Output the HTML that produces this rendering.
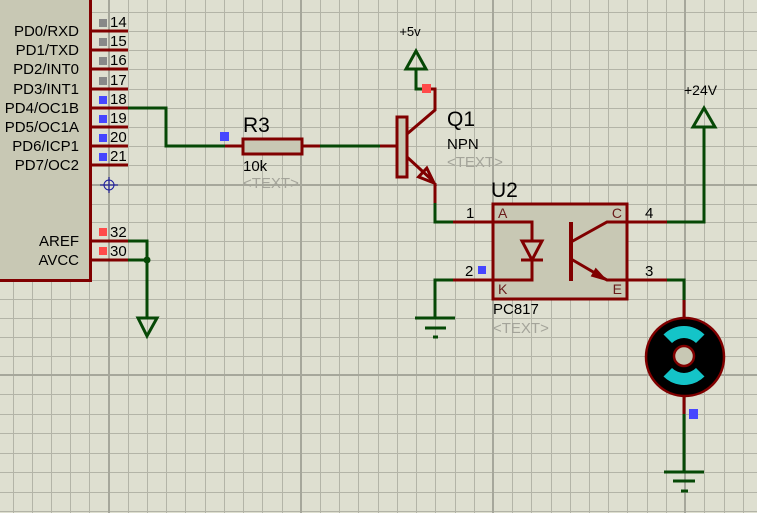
<!DOCTYPE html>
<html><head><meta charset="utf-8"><style>
html,body{margin:0;padding:0;background:#dedfd0;}
svg{display:block;}
text{font-family:"Liberation Sans",Arial,sans-serif;}
</style></head><body>
<svg width="757" height="513" viewBox="0 0 757 513" xmlns="http://www.w3.org/2000/svg">
<rect x="0" y="0" width="757" height="513" fill="#dedfd0"/>
<!-- grid minor vertical -->
<g stroke="#b3b4a7" stroke-width="1">
<line x1="13.5" y1="0" x2="13.5" y2="513"/><line x1="32.5" y1="0" x2="32.5" y2="513"/><line x1="51.5" y1="0" x2="51.5" y2="513"/><line x1="70.5" y1="0" x2="70.5" y2="513"/><line x1="89.5" y1="0" x2="89.5" y2="513"/>
<line x1="128.5" y1="0" x2="128.5" y2="513"/><line x1="147.5" y1="0" x2="147.5" y2="513"/><line x1="166.5" y1="0" x2="166.5" y2="513"/><line x1="185.5" y1="0" x2="185.5" y2="513"/><line x1="205.5" y1="0" x2="205.5" y2="513"/><line x1="224.5" y1="0" x2="224.5" y2="513"/><line x1="243.5" y1="0" x2="243.5" y2="513"/><line x1="262.5" y1="0" x2="262.5" y2="513"/><line x1="282.5" y1="0" x2="282.5" y2="513"/>
<line x1="320.5" y1="0" x2="320.5" y2="513"/><line x1="339.5" y1="0" x2="339.5" y2="513"/><line x1="358.5" y1="0" x2="358.5" y2="513"/><line x1="378.5" y1="0" x2="378.5" y2="513"/><line x1="397.5" y1="0" x2="397.5" y2="513"/><line x1="416.5" y1="0" x2="416.5" y2="513"/><line x1="435.5" y1="0" x2="435.5" y2="513"/><line x1="455.5" y1="0" x2="455.5" y2="513"/><line x1="474.5" y1="0" x2="474.5" y2="513"/>
<line x1="512.5" y1="0" x2="512.5" y2="513"/><line x1="531.5" y1="0" x2="531.5" y2="513"/><line x1="551.5" y1="0" x2="551.5" y2="513"/><line x1="570.5" y1="0" x2="570.5" y2="513"/><line x1="589.5" y1="0" x2="589.5" y2="513"/><line x1="608.5" y1="0" x2="608.5" y2="513"/><line x1="627.5" y1="0" x2="627.5" y2="513"/><line x1="647.5" y1="0" x2="647.5" y2="513"/><line x1="666.5" y1="0" x2="666.5" y2="513"/>
<line x1="704.5" y1="0" x2="704.5" y2="513"/><line x1="724.5" y1="0" x2="724.5" y2="513"/><line x1="743.5" y1="0" x2="743.5" y2="513"/>
</g>
<!-- grid minor horizontal -->
<g stroke="#b3b4a7" stroke-width="1">
<line x1="0" y1="12.5" x2="757" y2="12.5"/><line x1="0" y1="31.5" x2="757" y2="31.5"/><line x1="0" y1="50.5" x2="757" y2="50.5"/><line x1="0" y1="69.5" x2="757" y2="69.5"/><line x1="0" y1="89.5" x2="757" y2="89.5"/><line x1="0" y1="108.5" x2="757" y2="108.5"/><line x1="0" y1="127.5" x2="757" y2="127.5"/><line x1="0" y1="146.5" x2="757" y2="146.5"/><line x1="0" y1="165.5" x2="757" y2="165.5"/>
<line x1="0" y1="204.5" x2="757" y2="204.5"/><line x1="0" y1="222.5" x2="757" y2="222.5"/><line x1="0" y1="241.5" x2="757" y2="241.5"/><line x1="0" y1="260.5" x2="757" y2="260.5"/><line x1="0" y1="280.5" x2="757" y2="280.5"/><line x1="0" y1="299.5" x2="757" y2="299.5"/><line x1="0" y1="318.5" x2="757" y2="318.5"/><line x1="0" y1="337.5" x2="757" y2="337.5"/><line x1="0" y1="356.5" x2="757" y2="356.5"/>
<line x1="0" y1="394.5" x2="757" y2="394.5"/><line x1="0" y1="414.5" x2="757" y2="414.5"/><line x1="0" y1="433.5" x2="757" y2="433.5"/><line x1="0" y1="453.5" x2="757" y2="453.5"/><line x1="0" y1="472.5" x2="757" y2="472.5"/><line x1="0" y1="492.5" x2="757" y2="492.5"/><line x1="0" y1="511.5" x2="757" y2="511.5"/>
</g>
<!-- grid major -->
<g stroke="#a6a79b" stroke-width="2">
<line x1="109" y1="0" x2="109" y2="513"/><line x1="301" y1="0" x2="301" y2="513"/><line x1="493" y1="0" x2="493" y2="513"/><line x1="685" y1="0" x2="685" y2="513"/>
<line x1="0" y1="185" x2="757" y2="185"/><line x1="0" y1="375" x2="757" y2="375"/>
</g>

<!-- Microcontroller body -->
<rect x="-10" y="-10" width="100.5" height="290.5" fill="#c8c8b4" stroke="#800000" stroke-width="3"/>
<!-- pins -->
<g stroke="#800000" stroke-width="3">
<line x1="91" y1="31" x2="128" y2="31"/><line x1="91" y1="50" x2="128" y2="50"/><line x1="91" y1="69" x2="128" y2="69"/><line x1="91" y1="89" x2="128" y2="89"/>
<line x1="91" y1="108" x2="128" y2="108"/><line x1="91" y1="127" x2="128" y2="127"/><line x1="91" y1="146" x2="128" y2="146"/><line x1="91" y1="165" x2="128" y2="165"/>
<line x1="91" y1="241" x2="128" y2="241"/><line x1="91" y1="260" x2="128" y2="260"/>
</g>
<g font-size="15" fill="#000" text-anchor="end">
<text x="79" y="36">PD0/RXD</text><text x="79" y="55">PD1/TXD</text><text x="79" y="74">PD2/INT0</text><text x="79" y="94">PD3/INT1</text>
<text x="79" y="113">PD4/OC1B</text><text x="79" y="132">PD5/OC1A</text><text x="79" y="151">PD6/ICP1</text><text x="79" y="170">PD7/OC2</text>
<text x="79" y="246">AREF</text><text x="79" y="265">AVCC</text>
</g>
<g font-size="15" fill="#000">
<text x="110" y="27">14</text><text x="110" y="46">15</text><text x="110" y="65">16</text><text x="110" y="85">17</text>
<text x="110" y="104">18</text><text x="110" y="123">19</text><text x="110" y="142">20</text><text x="110" y="161">21</text>
<text x="110" y="237">32</text><text x="110" y="256">30</text>
</g>
<g fill="#888888">
<rect x="99" y="19" width="8" height="8"/><rect x="99" y="38" width="8" height="8"/><rect x="99" y="57" width="8" height="8"/><rect x="99" y="77" width="8" height="8"/>
</g>
<g fill="#4646ff">
<rect x="99" y="96" width="8" height="8"/><rect x="99" y="115" width="8" height="8"/><rect x="99" y="134" width="8" height="8"/><rect x="99" y="153" width="8" height="8"/>
</g>
<g fill="#ff4a4a">
<rect x="99" y="228" width="8" height="8"/><rect x="99" y="247" width="8" height="8"/>
</g>
<!-- crosshair -->
<g stroke="#1a1aa0" stroke-width="1" fill="none">
<circle cx="109" cy="185" r="5"/><line x1="100" y1="185" x2="118" y2="185"/><line x1="109" y1="177" x2="109" y2="193"/>
</g>

<!-- green wires -->
<g stroke="#064806" stroke-width="3" fill="none" stroke-linejoin="miter">
<polyline points="128,108 166,108 166,146 225,146"/>
<line x1="320" y1="146" x2="380" y2="146"/>
<polyline points="128,241 147,241 147,318"/>
<line x1="128" y1="260" x2="147" y2="260"/>
<polygon points="138,318 157,318 147,336"/>
<polyline points="416,69 416,89 424,89"/>
<polygon points="416,51 406,69 426,69"/>
<polyline points="435,203 435,222 453,222"/>
<polyline points="453,280 435,280 435,318"/>
<line x1="415" y1="318" x2="455" y2="318"/>
<line x1="425" y1="328" x2="446" y2="328"/>
<line x1="433" y1="337" x2="438" y2="337"/>
<polyline points="667,222 704,222 704,127"/>
<polygon points="704,108 693,127 715,127"/>
<polyline points="667,280 684,280 684,300"/>
<line x1="684" y1="414" x2="684" y2="472"/>
<line x1="664" y1="472" x2="704" y2="472"/>
<line x1="673" y1="481" x2="695" y2="481"/>
<line x1="681" y1="491" x2="688" y2="491"/>
</g>
<circle cx="147" cy="260" r="3.5" fill="#064806"/>

<!-- R3 -->
<g stroke="#800000" stroke-width="3" fill="none">
<line x1="225" y1="146" x2="243" y2="146"/>
<line x1="302" y1="146" x2="320" y2="146"/>
<line x1="380" y1="146" x2="397" y2="146"/>
</g>
<rect x="243" y="139" width="59" height="15" fill="#c8c8b4" stroke="#800000" stroke-width="3"/>
<rect x="220" y="132" width="9" height="9" fill="#4646ff"/>
<text x="243" y="132" font-size="21" fill="#000">R3</text>
<text x="243" y="171" font-size="15" fill="#000">10k</text>
<text x="243" y="188" font-size="15" fill="#a4a49a">&lt;TEXT&gt;</text>

<!-- Q1 -->
<g stroke="#800000" stroke-width="3" fill="none" stroke-linejoin="miter">
<polyline points="407,134 435,110 435,89 424,89"/>
<line x1="407" y1="157" x2="433" y2="181"/>
<polygon points="418.6,176.9 426.8,168.1 434,183"/>
<line x1="435" y1="183" x2="435" y2="203"/>
<line x1="453" y1="222" x2="493" y2="222"/>
<line x1="453" y1="280" x2="493" y2="280"/>
</g>
<rect x="397" y="117" width="10" height="60" fill="#c8c8b4" stroke="#800000" stroke-width="3"/>
<rect x="422" y="84" width="9" height="9" fill="#ff4a4a"/>
<text x="410" y="36" font-size="13" fill="#000" text-anchor="middle">+5v</text>
<text x="447" y="126" font-size="21" fill="#000">Q1</text>
<text x="447" y="149" font-size="15" fill="#000">NPN</text>
<text x="447" y="167" font-size="15" fill="#a4a49a">&lt;TEXT&gt;</text>

<!-- U2 -->
<rect x="493" y="204" width="134" height="95" fill="#c8c8b4" stroke="#800000" stroke-width="3"/>
<g stroke="#800000" stroke-width="3" fill="none" stroke-linejoin="miter">
<polyline points="493,222 532,222 532,241"/>
<polygon points="522,241 542,241 532,260"/>
<line x1="521" y1="260" x2="543" y2="260"/>
<polyline points="532,260 532,280 493,280"/>
<line x1="571" y1="222" x2="571" y2="281" stroke-width="4"/>
<polyline points="571,242 607,222 667,222"/>
<polyline points="571,259 607,280 667,280"/>
<line x1="684" y1="300" x2="684" y2="318"/>
<line x1="684" y1="396" x2="684" y2="414"/>
</g>
<polygon points="606,280 591.8,275.9 595.8,268.9" fill="#800000" stroke="#800000" stroke-width="1.5"/>
<rect x="478" y="266" width="8" height="8" fill="#4646ff"/>
<g font-size="14" fill="#6a1a1a">
<text x="498" y="218">A</text><text x="498" y="294">K</text>
<text x="622" y="218" text-anchor="end">C</text><text x="622" y="294" text-anchor="end">E</text>
</g>
<g font-size="15" fill="#000">
<text x="466" y="218">1</text><text x="465" y="276">2</text>
<text x="645" y="218">4</text><text x="645" y="276">3</text>
</g>
<text x="491" y="197" font-size="21" fill="#000">U2</text>
<text x="493" y="314" font-size="15" fill="#000">PC817</text>
<text x="493" y="333" font-size="15" fill="#a4a49a">&lt;TEXT&gt;</text>
<text x="684" y="95" font-size="14" fill="#000">+24V</text>

<!-- Motor -->
<circle cx="685" cy="357" r="39" fill="#000" stroke="#800000" stroke-width="2.5"/>
<path d="M663.5,334.5 A29,29 0 0 1 704.5,334.5 L696,343 A17,17 0 0 0 672,343 Z" fill="#14c4c8"/>
<path d="M663.5,376.5 A29,29 0 0 0 704.5,376.5 L696,368 A17,17 0 0 1 672,368 Z" fill="#14c4c8"/>
<circle cx="684" cy="356" r="10" fill="#c8c8b4" stroke="#800000" stroke-width="2.5"/>
<rect x="689" y="409" width="9" height="10" fill="#4646ff"/>
</svg>
</body></html>
